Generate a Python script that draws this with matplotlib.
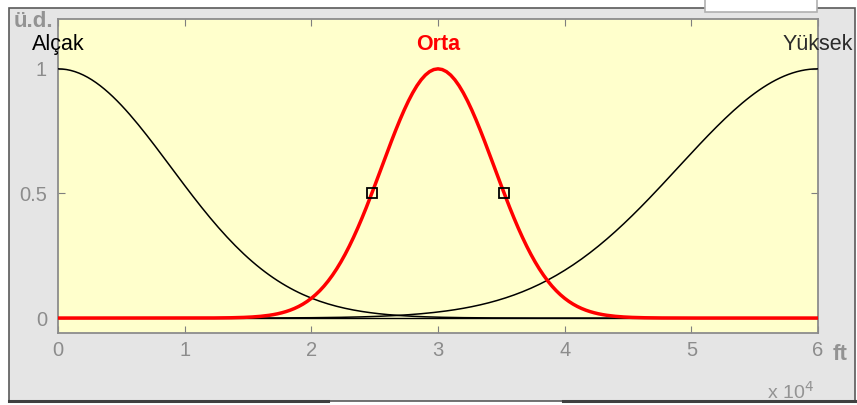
import numpy as np
import matplotlib
matplotlib.use("Agg")
import matplotlib.pyplot as plt
from matplotlib.patches import Rectangle
from matplotlib.lines import Line2D

plt.rcParams["font.family"] = ["Liberation Sans", "DejaVu Sans"]

# Üyelik fonksiyonları (gaussmf), evren: 0 - 60000 ft
x_range = (0, 60000)
mf_names = ["Alçak", "Orta", "Yüksek"]
mf_centers = [0, 30000, 60000]
mf_sigmas = [8900, 4440, 11000]
mf_colors = ["black", "red", "black"]
mf_widths = [1.1, 2.5, 1.1]
label_colors = ["black", "red", "#2b2b2b"]
xticks = [0, 10000, 20000, 30000, 40000, 50000, 60000]
xticklabels = ["0", "1", "2", "3", "4", "5", "6"]
yticks = [0, 0.5, 1]
yticklabels = ["0", "0.5", "1"]

GRAY_TXT = "#8c8c8c"

fig = plt.figure(figsize=(8.57, 4.05), dpi=100)
fig.patch.set_facecolor("white")

# pencere çerçevesi
W, H = 857, 405
def px(x0, y0, w, h):
    return (x0 / W, 1 - (y0 + h) / H, w / W, h / H)

bx, by, bw, bh = px(9, 8, 846, 393)
fig.patches.append(Rectangle((bx, by), bw, bh, transform=fig.transFigure,
                             facecolor="#e5e5e5", edgecolor="#5a5a5a", lw=1.2, zorder=-5))
bx, by, bw, bh = px(705, -2, 112, 14)
fig.patches.append(Rectangle((bx, by), bw, bh, transform=fig.transFigure,
                             facecolor="white", edgecolor="#b0b0b0", lw=1.2, zorder=1))
for x0, x1 in [(9, 328), (563, 855)]:
    fig.lines.append(Line2D([x0 / W, x1 / W], [1 - 401 / H] * 2, transform=fig.transFigure,
                            color="#404040", lw=2.2, zorder=2))

ax = fig.add_axes(px(58, 19, 760, 314))
ax.set_facecolor("#ffffcc")
ax.set_xlim(*x_range)
ax.set_ylim(-0.06, 1.2)

xs = np.linspace(x_range[0], x_range[1], 181)
ax.axhline(0, color="black", lw=1.0, zorder=2)
for c, s, col, lw in zip(mf_centers, mf_sigmas, mf_colors, mf_widths):
    ys = np.exp(-((xs - c) ** 2) / (2 * s ** 2))
    ax.plot(xs, ys, color=col, lw=lw, zorder=4 if col == "red" else 3)

# seçili fonksiyonun 0.5 noktaları
c, s = mf_centers[1], mf_sigmas[1]
half = s * np.sqrt(2 * np.log(2))
ax.plot([c - half, c + half], [0.5, 0.5], ls="none", marker="s", ms=7.5,
        mfc="none", mec="black", mew=1.3, zorder=5)

# fonksiyon adları
for name, c, col in zip(mf_names, mf_centers, label_colors):
    ax.text(c, 1.075, name, ha="center", va="baseline", fontsize=15.5, color=col,
            fontweight="bold" if col == "red" else "normal", clip_on=False)

ax.set_xticks(xticks)
ax.set_xticklabels(xticklabels)
ax.set_yticks(yticks)
ax.set_yticklabels(yticklabels)
ax.tick_params(direction="in", length=5, colors="#7f7f7f", labelcolor=GRAY_TXT,
               labelsize=14.5, top=True, right=True)
ax.tick_params(axis="x", pad=6)
ax.tick_params(axis="y", pad=8)
for sp in ax.spines.values():
    sp.set_color("#8c8c8c")
    sp.set_linewidth(1.3)

fig.text(14 / W, 1 - 27 / H, "ü.d.", fontsize=16, fontweight="bold", color="#939393",
         ha="left", va="baseline")
fig.text(833 / W, 1 - 360 / H, "ft", fontsize=16, fontweight="bold", color="#939393",
         ha="left", va="baseline")
fig.text(767 / W, 1 - 399 / H, r"x 10$^{4}$", fontsize=14, color="#939393",
         ha="left", va="baseline")

fig.savefig("out.png", dpi=100, facecolor=fig.get_facecolor())
